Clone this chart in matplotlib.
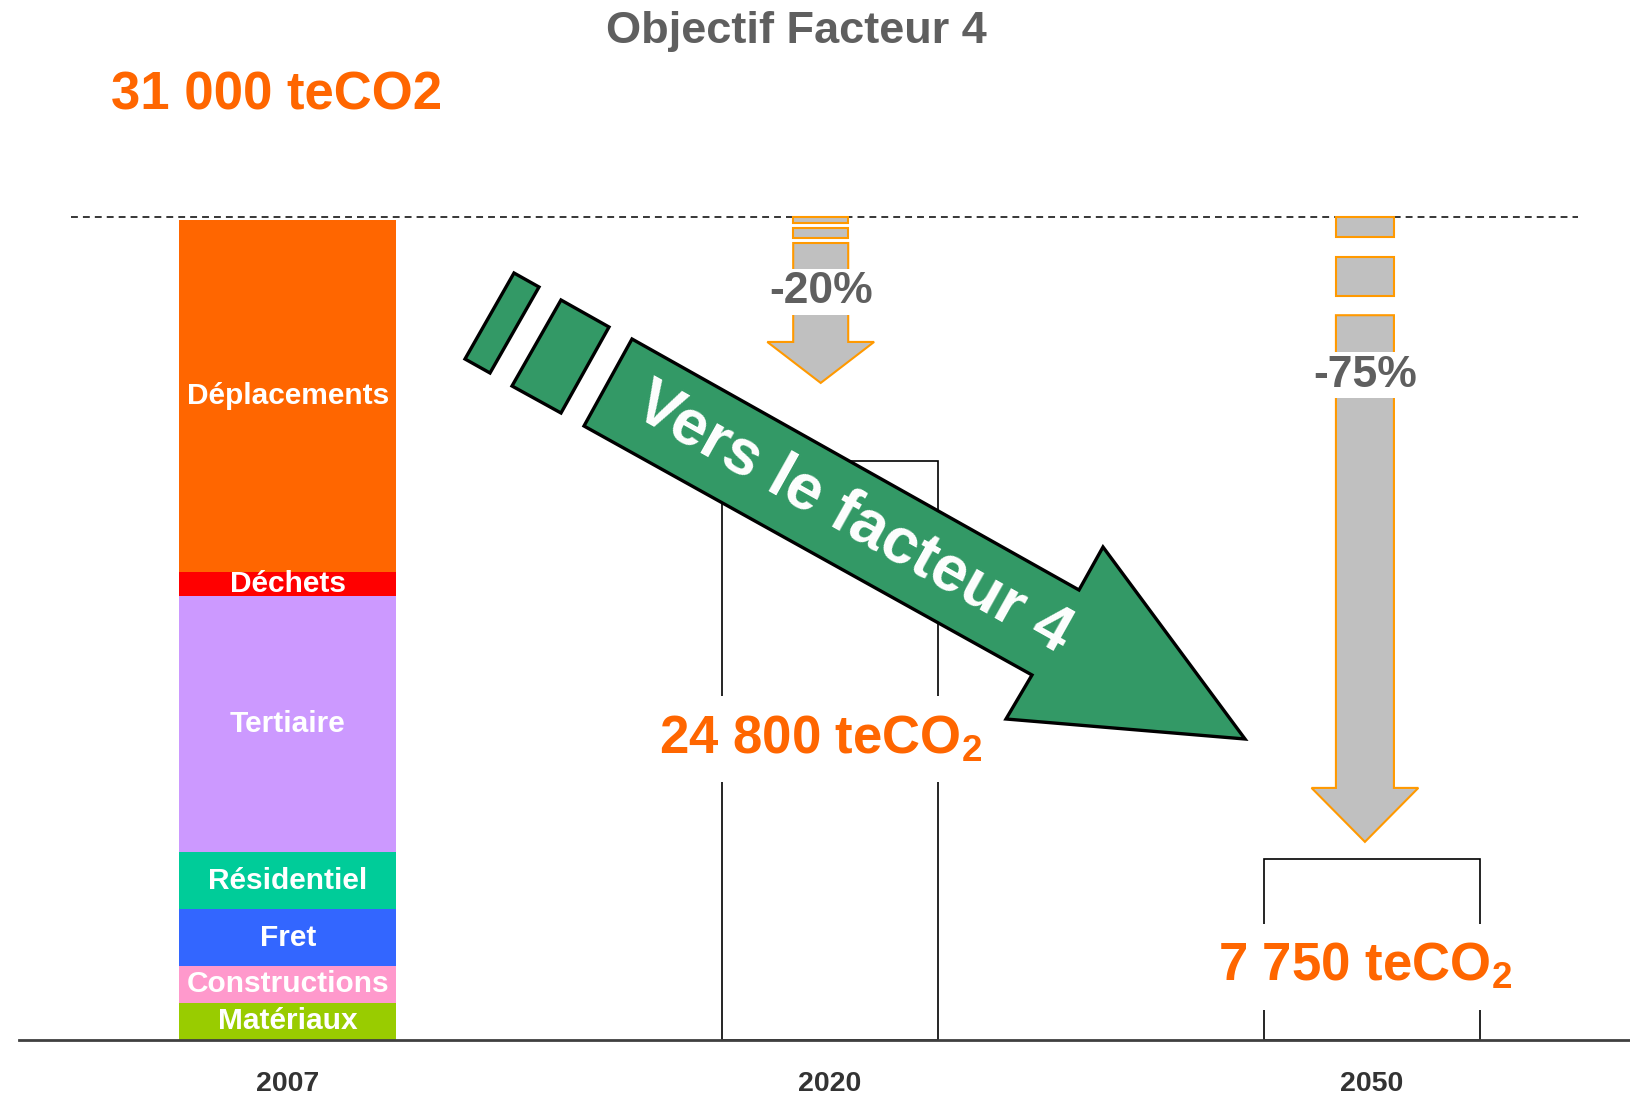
import matplotlib
matplotlib.use("Agg")
from matplotlib import pyplot as plt
from matplotlib.patches import Polygon, Rectangle

plt.rcParams["font.family"] = ["Liberation Sans", "DejaVu Sans"]
plt.rcParams["mathtext.fontset"] = "custom"
plt.rcParams["mathtext.rm"] = "Liberation Sans:bold"
plt.rcParams["mathtext.bf"] = "Liberation Sans:bold"
plt.rcParams["mathtext.default"] = "bf"

# Data
years = ["2007", "2020", "2050"]
sectors = ["Matériaux", "Constructions", "Fret", "Résidentiel", "Tertiaire", "Déchets", "Déplacements"]
sector_values = [1400, 1400, 2150, 2150, 9700, 900, 13300]
sector_colors = ["#99CC00", "#FF99CC", "#3366FF", "#00CC99", "#CC99FF", "#FF0000", "#FF6600"]
total_2007 = 31000
target_bars = [21900, 6850]          # drawn heights of the 2020 / 2050 outlines
target_labels = ["24 800 teCO$_2$", "7 750 teCO$_2$"]
target_label_y = [11380, 2770]
reductions = ["-20%", "-75%"]
reduction_label_y = [28280, 25130]
arrow_tips = [24840, 7490]
arrow_head_tops = [26390, 9530]
arrow_shaft_tops = [30130, 27400]
arrow_pieces = [[(30886, 31110), (30320, 30700)],
                [(30360, 31110), (28130, 29600)]]

orange = "#FF6600"
grey_text = "#5F5F5F"

fig = plt.figure(figsize=(16.3, 10.97), dpi=100)
W, H = 1630.0, 1097.0
ax = fig.add_axes([19 / W, 1 - 1040 / H, 1 - 19 / W, 1040 / H])
ax.set_xlim(-0.496, 2.476)
ax.set_ylim(0, total_2007 * 1040 / 820)
bar_w = 0.40

# 2007 stacked bar
bottom = 0
for name, val, col in zip(sectors, sector_values, sector_colors):
    ax.bar(0, val, bar_w, bottom=bottom, color=col, edgecolor="none", zorder=2)
    ax.text(0, bottom + val / 2, name, ha="center", va="center", color="white",
            fontsize=21.5, fontweight="bold", zorder=3)
    bottom += val

# 2020 / 2050 outline bars
for i, h in enumerate(target_bars):
    ax.bar(i + 1, h, bar_w, color="white", edgecolor="black", linewidth=1.2, zorder=1)

# dashed reference line
ax.hlines(31100, -0.40, 2.38, colors="black", linewidth=1.1,
          linestyles=(0, (4.5, 3.3)), zorder=1)

# grey reduction arrows
arrow_x = [0.983, 1.987]
shaft_w = [0.1015, 0.107]
head_w = [0.197, 0.197]
for i in range(2):
    cx = arrow_x[i]
    sw, hw = shaft_w[i] / 2, head_w[i] / 2
    pts = [(cx - sw, arrow_shaft_tops[i]), (cx + sw, arrow_shaft_tops[i]),
           (cx + sw, arrow_head_tops[i]), (cx + hw, arrow_head_tops[i]),
           (cx, arrow_tips[i]), (cx - hw, arrow_head_tops[i]),
           (cx - sw, arrow_head_tops[i])]
    ax.add_patch(Polygon(pts, closed=True, facecolor="#C0C0C0", edgecolor="#FF9900",
                         linewidth=1.5, zorder=3))
    for lo, hi in arrow_pieces[i]:
        ax.add_patch(Rectangle((cx - sw, lo), 2 * sw, hi - lo, facecolor="#C0C0C0",
                               edgecolor="#FF9900", linewidth=1.5, zorder=3))
    ax.text(cx, reduction_label_y[i], reductions[i], ha="center", va="center",
            fontsize=32, fontweight="bold", color=grey_text, zorder=4,
            bbox=dict(facecolor="white", edgecolor="none", pad=2))
    ax.text(cx, target_label_y[i], target_labels[i], ha="center", va="center",
            fontsize=38, fontweight="bold", color=orange, zorder=4,
            bbox=dict(facecolor="white", edgecolor="none", pad=13))

# axis styling
for s in ["top", "left", "right"]:
    ax.spines[s].set_visible(False)
ax.spines["bottom"].set_color("#404040")
ax.spines["bottom"].set_linewidth(2)
ax.set_yticks([])
ax.set_xticks([0, 1, 2])
ax.set_xticklabels(years, fontsize=20.5, fontweight="bold", color="#333333")
ax.tick_params(axis="x", length=0, pad=22)
ax.patch.set_alpha(0)


# green "Vers le facteur 4" arrow, in figure pixel coords
def fp(pts):
    return [(x / W, 1 - y / H) for x, y in pts]


green_shapes = [
    [(632, 339), (1079, 590), (1103, 547), (1245, 739), (1006, 719), (1032, 675), (584, 426)],
    [(514, 273), (539, 287), (490, 373), (465, 359)],
    [(561, 300), (609, 327), (561, 413), (512, 386)],
]
for shape in green_shapes:
    fig.patches.append(Polygon(fp(shape), closed=True, transform=fig.transFigure,
                               facecolor="#339966", edgecolor="black", linewidth=2.4,
                               zorder=5))
fig.text(853 / W, 1 - 519 / H, "Vers le facteur 4", rotation=-29.3, rotation_mode="anchor",
         ha="center", va="center", fontsize=46, fontweight="bold", color="white", zorder=6)

fig.text(796 / W, 1 - 31 / H, "Objectif Facteur 4", ha="center", va="center",
         fontsize=32.5, fontweight="bold", color=grey_text)
fig.text(277 / W, 1 - 96 / H, "31 000 teCO2", ha="center", va="center",
         fontsize=38, fontweight="bold", color=orange)

fig.savefig("out.png", dpi=100, facecolor="white")
